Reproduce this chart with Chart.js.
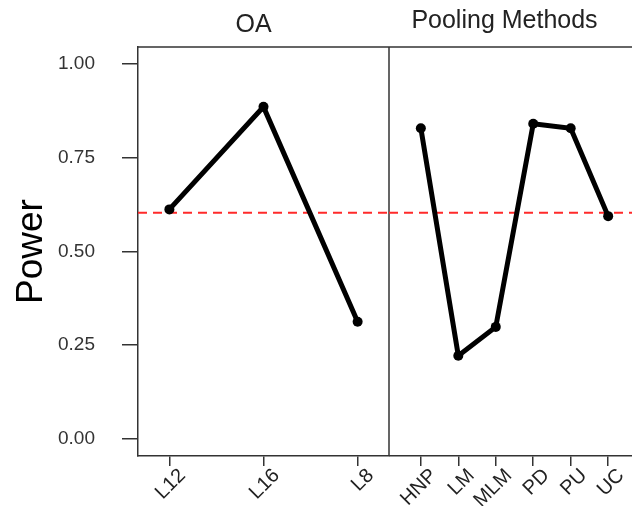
<!DOCTYPE html>
<html>
<head>
<meta charset="utf-8">
<script src="https://cdn.jsdelivr.net/npm/chart.js@4"></script>
<style>
  body { margin: 0; background: #fff; overflow: hidden; }
  #wrap { position: relative; width: 632px; height: 506px; overflow: hidden; }
  canvas { position: absolute; top: 0; }
  #oaChart { left: 0; }
  #poolChart { left: 389px; }
</style>
</head>
<body>
<div id="wrap">
  <canvas id="oaChart" width="391" height="506"></canvas>
  <canvas id="poolChart" width="251" height="506"></canvas>
</div>
<script>
// パネルごとのデータ
const oaLabels = ['L12', 'L16', 'L8'];
const oaPower = [0.612, 0.886, 0.312];

const poolLabels = ['HNP', 'LM', 'MLM', 'PD', 'PU', 'UC'];
const poolPower = [0.829, 0.221, 0.298, 0.841, 0.829, 0.594];

const yTicks = [0, 0.25, 0.5, 0.75, 1];
const refPower = 0.603;

const FONT = "'Liberation Sans', Arial, sans-serif";
const INK = '#333';

// 枠線、赤い破線、パネル見出し
const framePlugin = {
  id: 'frame',
  beforeDatasetsDraw(chart) {
    const { ctx, chartArea: a, scales } = chart;
    const y = scales.y.getPixelForValue(refPower);
    ctx.save();
    ctx.strokeStyle = '#ff2a2a';
    ctx.lineWidth = 2;
    ctx.setLineDash([9, 6]);
    ctx.beginPath();
    ctx.moveTo(a.left, y);
    ctx.lineTo(a.right, y);
    ctx.stroke();
    ctx.restore();
  },
  afterDraw(chart, args, opts) {
    const { ctx, chartArea: a } = chart;
    ctx.save();
    ctx.strokeStyle = INK;
    ctx.lineWidth = 1.5;
    ctx.beginPath();
    ctx.moveTo(a.left, a.top);
    ctx.lineTo(a.right, a.top);
    if (opts.right) {
      ctx.moveTo(a.right, a.top);
      ctx.lineTo(a.right, a.bottom);
    }
    ctx.stroke();

    ctx.fillStyle = '#222';
    ctx.font = '25px ' + FONT;
    ctx.textAlign = 'center';
    ctx.textBaseline = 'alphabetic';
    ctx.fillText(opts.title, (a.left + a.right) / 2 - 10, opts.baseline);
    ctx.restore();
  }
};

function makePanel(id, title, baseline, labels, values, pad, showY) {
  const n = labels.length;
  return new Chart(document.getElementById(id), {
    type: 'line',
    data: {
      labels: labels,
      datasets: [{
        data: values,
        borderColor: '#000',
        backgroundColor: '#000',
        borderWidth: 5,
        pointRadius: 5,
        pointBorderWidth: 0,
        tension: 0
      }]
    },
    options: {
      responsive: false,
      animation: false,
      layout: {
        autoPadding: false,
        padding: { top: 47, right: showY ? 2 : 0, left: 0, bottom: 0 }
      },
      plugins: {
        legend: { display: false },
        tooltip: { enabled: false },
        frame: { right: showY, title: title, baseline: baseline }
      },
      scales: {
        x: {
          type: 'category',
          grid: { drawOnChartArea: false, drawTicks: true, tickLength: 10, color: INK, lineWidth: 1.5 },
          border: { display: true, color: INK, width: 1.5 },
          ticks: {
            autoSkip: false,
            minRotation: 45,
            maxRotation: 45,
            padding: -2,
            labelOffset: 13,
            color: '#222',
            font: { family: FONT, size: 20 }
          },
          afterBuildTicks(s) {
            // 端の余白を再現
            s._startValue = -pad;
            s._valueRange = n - 1 + 2 * pad;
          },
          afterFit(s) {
            s.height = 50;
            s.paddingLeft = 0;
            s.paddingRight = 0;
          }
        },
        y: {
          display: showY,
          min: -0.047,
          max: 1.046,
          grid: { drawOnChartArea: false, drawTicks: true, tickLength: 16, color: INK, lineWidth: 1.5 },
          border: { display: true, color: INK, width: 1.5 },
          ticks: {
            padding: 27,
            color: '#333',
            font: { family: FONT, size: 19 },
            callback: v => Number(v).toFixed(2)
          },
          afterBuildTicks(s) {
            s.ticks = yTicks.map(v => ({ value: v }));
          },
          title: {
            display: true,
            text: 'Power',
            color: '#000',
            font: { family: FONT, size: 37 },
            padding: { top: 10, bottom: 0 }
          },
          afterFit(s) {
            if (showY) s.width = 138;
            s.paddingTop = 0;
            s.paddingBottom = 0;
          }
        }
      }
    },
    plugins: [framePlugin]
  });
}

makePanel('oaChart', 'OA', 32, oaLabels, oaPower, 1 / 3, true);
makePanel('poolChart', 'Pooling Methods', 28, poolLabels, poolPower, 0.85, false);
</script>
</body>
</html>
